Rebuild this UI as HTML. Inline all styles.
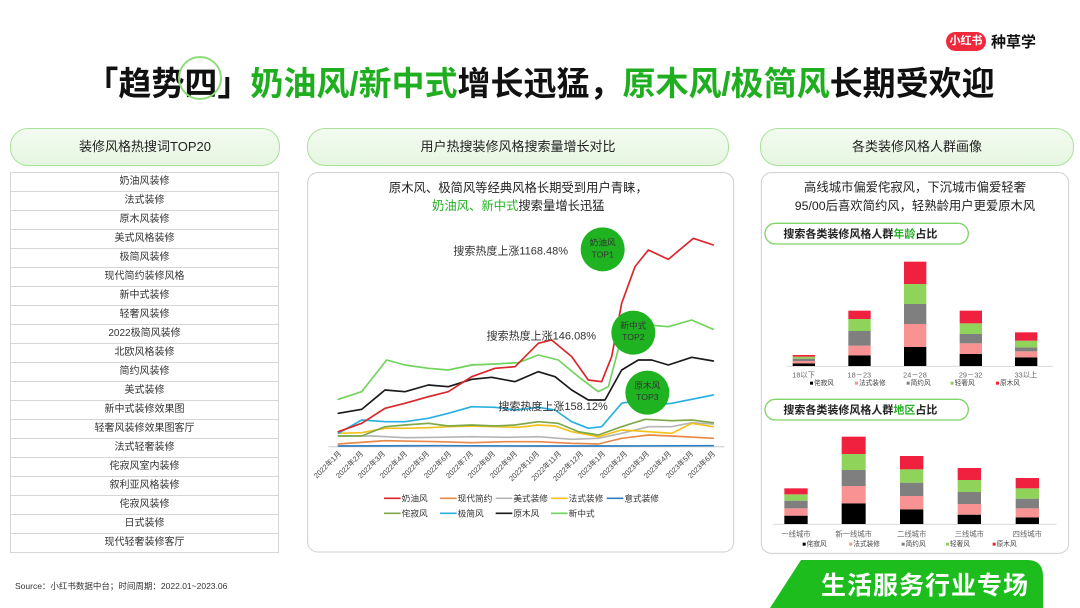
<!DOCTYPE html>
<html><head><meta charset="utf-8"><style>
body{margin:0;width:1080px;height:608px;background:#fff;position:relative;overflow:hidden;font-family:"Liberation Sans","Noto Sans CJK SC",sans-serif;color:#222}
.abs{position:absolute}
.pill{position:absolute;height:36px;border:1px solid #a8e29a;border-radius:18px;background:linear-gradient(#f3fbf0,#e6f6e1);text-align:center;line-height:36px;font-size:13px;color:#222}
table{border-collapse:collapse;position:absolute;left:10px;top:172px;width:269px}
td{border:1px solid #d6d6d6;height:18px;padding:0;text-align:center;font-size:10px;color:#333;line-height:18px}
.g{color:#1fae1f}
</style></head><body>
<div class="abs" style="left:0;top:57px;width:1080px;text-align:center;font-size:33px;font-weight:bold;color:#111;white-space:nowrap">「趋势四」<span class="g">奶油风/新中式</span>增长迅猛，<span class="g">原木风/极简风</span>长期受欢迎</div>
<div class="abs" style="left:178px;top:56px;width:44px;height:44px;border:2px solid #8fdc7a;border-radius:50%;box-sizing:border-box"></div>
<div class="abs" style="left:946px;top:32px;width:40px;height:19px;background:#f0283c;border-radius:10px;color:#fff;font-size:11px;font-weight:bold;text-align:center;line-height:19px">小红书</div>
<div class="abs" style="left:991px;top:31px;font-size:15px;font-weight:bold;color:#111">种草学</div>

<div class="pill" style="left:10px;top:128px;width:268px">装修风格热搜词TOP20</div>
<div class="pill" style="left:307px;top:128px;width:420px">用户热搜装修风格搜索量增长对比</div>
<div class="pill" style="left:760px;top:128px;width:312px">各类装修风格人群画像</div>

<table>
<tr><td>奶油风装修</td></tr><tr><td>法式装修</td></tr><tr><td>原木风装修</td></tr><tr><td>美式风格装修</td></tr><tr><td>极简风装修</td></tr><tr><td>现代简约装修风格</td></tr><tr><td>新中式装修</td></tr><tr><td>轻奢风装修</td></tr><tr><td>2022极简风装修</td></tr><tr><td>北欧风格装修</td></tr><tr><td>简约风装修</td></tr><tr><td>美式装修</td></tr><tr><td>新中式装修效果图</td></tr><tr><td>轻奢风装修效果图客厅</td></tr><tr><td>法式轻奢装修</td></tr><tr><td>侘寂风室内装修</td></tr><tr><td>叙利亚风格装修</td></tr><tr><td>侘寂风装修</td></tr><tr><td>日式装修</td></tr><tr><td>现代轻奢装修客厅</td></tr>
</table>

<svg class="abs" style="left:305px;top:170px" width="440" height="385" viewBox="0 0 1320 1155" font-family="Liberation Sans, Noto Sans CJK SC, sans-serif">
<rect x="8" y="8" width="1278" height="1138" rx="30" fill="#fff" stroke="#cfcfcf" stroke-width="3"/>
<text x="640" y="66" font-size="37" text-anchor="middle" fill="#222">原木风、极简风等经典风格长期受到用户青睐，</text>
<text x="640" y="120" font-size="37" text-anchor="middle" fill="#222"><tspan fill="#22b022">奶油风、新中式</tspan>搜索量增长迅猛</text>
<line x1="70" y1="830" x2="1258" y2="830" stroke="#d9d9d9" stroke-width="4"/>
<g fill="none" stroke-width="5" stroke-linejoin="round" stroke-linecap="round">
<polyline stroke="#2f7fc1" points="100,828 400,827 700,828 900,828 1225,827"/>
<polyline stroke="#e8894a" points="100,822 240,812 400,815 500,818 600,815 700,815 800,820 880,822 950,805 1030,795 1100,798 1225,805"/>
<polyline stroke="#b5b5b5" points="100,798 200,798 300,803 400,802 500,800 600,802 700,800 800,808 880,805 950,790 1030,770 1100,770 1160,758 1225,762"/>
<polyline stroke="#f2c21a" points="100,790 170,788 240,775 300,775 370,773 430,770 500,768 570,770 640,772 700,765 750,768 800,785 880,800 950,780 1030,785 1100,790 1160,760 1225,770"/>
<polyline stroke="#7fa84a" points="100,798 170,798 240,770 300,765 370,760 430,768 500,765 570,768 630,765 700,755 760,760 820,785 880,795 950,770 1020,748 1100,752 1160,750 1225,758"/>
<polyline stroke="#2ab0e0" points="100,790 170,750 240,755 300,755 370,745 430,730 500,710 570,712 630,720 700,712 750,720 800,755 850,775 890,770 950,700 1000,690 1050,705 1100,700 1225,675"/>
<polyline stroke="#1a1a1a" points="100,730 170,718 240,660 300,665 370,645 430,650 500,628 560,622 630,635 700,605 750,620 800,660 850,690 900,690 950,600 1000,570 1040,570 1090,585 1160,562 1225,573"/>
<polyline stroke="#6fd35c" points="100,688 170,665 245,570 300,585 370,595 430,600 500,585 570,582 640,578 700,555 760,570 820,620 880,665 910,650 950,500 990,460 1030,465 1090,470 1160,450 1225,478"/>
<polyline stroke="#d9262a" points="100,785 170,760 240,715 300,700 370,680 430,665 500,620 570,595 630,590 700,520 740,510 800,560 850,630 890,635 920,560 950,400 990,290 1030,240 1090,268 1165,205 1225,225"/>
</g>
<g fill="#1fb322"><circle cx="893" cy="238" r="66"/><circle cx="985" cy="488" r="66"/><circle cx="1027" cy="668" r="66"/></g>
<g font-size="26" text-anchor="middle" fill="#333">
<text x="893" y="226">奶油风</text><text x="893" y="262">TOP1</text>
<text x="985" y="476">新中式</text><text x="985" y="510">TOP2</text>
<text x="1027" y="656">原木风</text><text x="1027" y="690">TOP3</text>
</g>
<g font-size="33" fill="#333">
<text x="445" y="254">搜索热度上涨1168.48%</text>
<text x="545" y="508">搜索热度上涨146.08%</text>
<text x="580" y="720">搜索热度上涨158.12%</text>
</g>
<g font-size="22" fill="#444" text-anchor="end">
<text transform="translate(110,852) rotate(-45)">2022年1月</text>
<text transform="translate(176,852) rotate(-45)">2022年2月</text>
<text transform="translate(242,852) rotate(-45)">2022年3月</text>
<text transform="translate(308,852) rotate(-45)">2022年4月</text>
<text transform="translate(374,852) rotate(-45)">2022年5月</text>
<text transform="translate(440,852) rotate(-45)">2022年6月</text>
<text transform="translate(506,852) rotate(-45)">2022年7月</text>
<text transform="translate(572,852) rotate(-45)">2022年8月</text>
<text transform="translate(638,852) rotate(-45)">2022年9月</text>
<text transform="translate(704,852) rotate(-45)">2022年10月</text>
<text transform="translate(770,852) rotate(-45)">2022年11月</text>
<text transform="translate(836,852) rotate(-45)">2022年12月</text>
<text transform="translate(902,852) rotate(-45)">2023年1月</text>
<text transform="translate(968,852) rotate(-45)">2023年2月</text>
<text transform="translate(1034,852) rotate(-45)">2023年3月</text>
<text transform="translate(1100,852) rotate(-45)">2023年4月</text>
<text transform="translate(1166,852) rotate(-45)">2023年5月</text>
<text transform="translate(1232,852) rotate(-45)">2023年6月</text>
</g>
<g stroke-width="5">
<line x1="237" y1="985" x2="287" y2="985" stroke="#d9262a"/>
<line x1="405" y1="985" x2="455" y2="985" stroke="#e8894a"/>
<line x1="572" y1="985" x2="622" y2="985" stroke="#b5b5b5"/>
<line x1="738" y1="985" x2="788" y2="985" stroke="#f2c21a"/>
<line x1="905" y1="985" x2="955" y2="985" stroke="#2f7fc1"/>
<line x1="237" y1="1030" x2="287" y2="1030" stroke="#7fa84a"/>
<line x1="405" y1="1030" x2="455" y2="1030" stroke="#2ab0e0"/>
<line x1="572" y1="1030" x2="622" y2="1030" stroke="#1a1a1a"/>
<line x1="738" y1="1030" x2="788" y2="1030" stroke="#6fd35c"/>
</g>
<g font-size="26" fill="#333">
<text x="290" y="994">奶油风</text><text x="458" y="994">现代简约</text><text x="625" y="994">美式装修</text><text x="791" y="994">法式装修</text><text x="958" y="994">意式装修</text>
<text x="290" y="1039">侘寂风</text><text x="458" y="1039">极简风</text><text x="625" y="1039">原木风</text><text x="791" y="1039">新中式</text>
</g>
</svg>

<svg class="abs" style="left:760px;top:170px" width="310" height="390" viewBox="0 0 930 1170" font-family="Liberation Sans, Noto Sans CJK SC, sans-serif">
<rect x="4" y="8" width="922" height="1142" rx="30" fill="#fff" stroke="#cfcfcf" stroke-width="3"/>
<text x="465" y="65" font-size="37" text-anchor="middle" fill="#222">高线城市偏爱侘寂风，下沉城市偏爱轻奢</text>
<text x="465" y="120" font-size="37" text-anchor="middle" fill="#222">95/00后喜欢简约风，轻熟龄用户更爱原木风</text>
<rect x="15" y="160" width="610" height="62" rx="31" fill="#fff" stroke="#7fd46a" stroke-width="4"/>
<text x="70" y="203" font-size="33" font-weight="bold" fill="#222">搜索各类装修风格人群<tspan fill="#22b022">年龄</tspan>占比</text>
<line x1="80" y1="589" x2="880" y2="589" stroke="#d9d9d9" stroke-width="3"/>
<g>
<rect x="98" y="580" width="67" height="8" fill="#000"/><rect x="98" y="573" width="67" height="7" fill="#f99393"/><rect x="98" y="566" width="67" height="7" fill="#7f7f7f"/><rect x="98" y="560" width="67" height="6" fill="#8fd35a"/><rect x="98" y="555" width="67" height="5" fill="#f0213f"/>
<rect x="265" y="556" width="67" height="32" fill="#000"/><rect x="265" y="527" width="67" height="29" fill="#f99393"/><rect x="265" y="483" width="67" height="44" fill="#7f7f7f"/><rect x="265" y="447" width="67" height="36" fill="#8fd35a"/><rect x="265" y="422" width="67" height="25" fill="#f0213f"/>
<rect x="432" y="531" width="67" height="57" fill="#000"/><rect x="432" y="462" width="67" height="69" fill="#f99393"/><rect x="432" y="402" width="67" height="60" fill="#7f7f7f"/><rect x="432" y="342" width="67" height="60" fill="#8fd35a"/><rect x="432" y="275" width="67" height="67" fill="#f0213f"/>
<rect x="599" y="552" width="67" height="36" fill="#000"/><rect x="599" y="520" width="67" height="32" fill="#f99393"/><rect x="599" y="492" width="67" height="28" fill="#7f7f7f"/><rect x="599" y="460" width="67" height="32" fill="#8fd35a"/><rect x="599" y="422" width="67" height="38" fill="#f0213f"/>
<rect x="765" y="562" width="67" height="26" fill="#000"/><rect x="765" y="544" width="67" height="18" fill="#f99393"/><rect x="765" y="532" width="67" height="12" fill="#7f7f7f"/><rect x="765" y="512" width="67" height="20" fill="#8fd35a"/><rect x="765" y="487" width="67" height="25" fill="#f0213f"/>
</g>
<g font-size="22" fill="#666" text-anchor="middle">
<text x="131" y="622">18以下</text><text x="298" y="622">18－23</text><text x="465" y="622">24－28</text><text x="632" y="622">29－32</text><text x="798" y="622">33以上</text>
</g>
<g font-size="20" fill="#444">
<rect x="150" y="635" width="9" height="9" fill="#000"/><text x="162" y="645">侘寂风</text>
<rect x="285" y="635" width="9" height="9" fill="#f99393"/><text x="297" y="645">法式装修</text>
<rect x="440" y="635" width="9" height="9" fill="#7f7f7f"/><text x="452" y="645">简约风</text>
<rect x="572" y="635" width="9" height="9" fill="#8fd35a"/><text x="584" y="645">轻奢风</text>
<rect x="708" y="635" width="9" height="9" fill="#f0213f"/><text x="720" y="645">原木风</text>
</g>
<rect x="15" y="688" width="610" height="62" rx="31" fill="#fff" stroke="#7fd46a" stroke-width="4"/>
<text x="70" y="731" font-size="33" font-weight="bold" fill="#222">搜索各类装修风格人群<tspan fill="#22b022">地区</tspan>占比</text>
<line x1="40" y1="1063" x2="890" y2="1063" stroke="#d9d9d9" stroke-width="3"/>
<g>
<rect x="73" y="1037" width="70" height="25" fill="#000"/><rect x="73" y="1015" width="70" height="22" fill="#f99393"/><rect x="73" y="992" width="70" height="23" fill="#7f7f7f"/><rect x="73" y="973" width="70" height="19" fill="#8fd35a"/><rect x="73" y="955" width="70" height="18" fill="#f0213f"/>
<rect x="245" y="1000" width="72" height="62" fill="#000"/><rect x="245" y="948" width="72" height="52" fill="#f99393"/><rect x="245" y="900" width="72" height="48" fill="#7f7f7f"/><rect x="245" y="852" width="72" height="48" fill="#8fd35a"/><rect x="245" y="800" width="72" height="52" fill="#f0213f"/>
<rect x="420" y="1018" width="70" height="44" fill="#000"/><rect x="420" y="978" width="70" height="40" fill="#f99393"/><rect x="420" y="938" width="70" height="40" fill="#7f7f7f"/><rect x="420" y="898" width="70" height="40" fill="#8fd35a"/><rect x="420" y="858" width="70" height="40" fill="#f0213f"/>
<rect x="593" y="1034" width="70" height="28" fill="#000"/><rect x="593" y="1002" width="70" height="32" fill="#f99393"/><rect x="593" y="966" width="70" height="36" fill="#7f7f7f"/><rect x="593" y="930" width="70" height="36" fill="#8fd35a"/><rect x="593" y="894" width="70" height="36" fill="#f0213f"/>
<rect x="767" y="1042" width="70" height="20" fill="#000"/><rect x="767" y="1015" width="70" height="27" fill="#f99393"/><rect x="767" y="986" width="70" height="29" fill="#7f7f7f"/><rect x="767" y="955" width="70" height="31" fill="#8fd35a"/><rect x="767" y="924" width="70" height="31" fill="#f0213f"/>
</g>
<g font-size="22" fill="#666" text-anchor="middle">
<text x="108" y="1100">一线城市</text><text x="281" y="1100">新一线城市</text><text x="455" y="1100">二线城市</text><text x="628" y="1100">三线城市</text><text x="802" y="1100">四线城市</text>
</g>
<g font-size="20" fill="#444">
<rect x="128" y="1118" width="9" height="9" fill="#000"/><text x="140" y="1128">侘寂风</text>
<rect x="268" y="1118" width="9" height="9" fill="#f99393"/><text x="280" y="1128">法式装修</text>
<rect x="425" y="1118" width="9" height="9" fill="#7f7f7f"/><text x="437" y="1128">简约风</text>
<rect x="558" y="1118" width="9" height="9" fill="#8fd35a"/><text x="570" y="1128">轻奢风</text>
<rect x="698" y="1118" width="9" height="9" fill="#f0213f"/><text x="710" y="1128">原木风</text>
</g>
</svg>

<div class="abs" style="left:15px;top:580px;font-size:8.5px;color:#333">Source：小红书数据中台；时间周期：2022.01~2023.06</div>
<svg class="abs" style="left:765px;top:558px" width="285" height="50" viewBox="0 0 285 50">
<path d="M36 2 H262 Q278 2 278 18 V50 H5 Z" fill="#1cbd1c"/>
</svg>
<div class="abs" style="left:800px;top:566px;width:250px;text-align:center;font-size:25px;color:#fff;font-weight:bold;letter-spacing:1px">生活服务行业专场</div>
</body></html>
